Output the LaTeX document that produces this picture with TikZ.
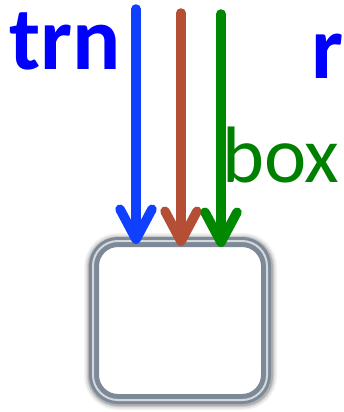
\documentclass[tikz,border=0pt]{standalone}
\usepackage{fontspec}
\setmainfont{Carlito}
\usetikzlibrary{arrows.meta}
\definecolor{trnblue}{RGB}{0,0,255}
\definecolor{arrblue}{RGB}{16,64,255}
\definecolor{arrred}{RGB}{180,78,52}
\definecolor{arrgreen}{RGB}{0,136,0}
\definecolor{boxgreen}{RGB}{0,128,0}
\definecolor{frame}{RGB}{125,137,150}
\definecolor{framelight}{RGB}{210,216,222}
\tikzset{
  flow/.style={line width=9.5pt, line cap=round,
    -{Straight Barb[length=30pt, width=32pt, line cap=round, line join=round]}},
  biglabel/.style={font=\fontsize{90}{90}\selectfont\bfseries, text=trnblue, inner sep=0pt, anchor=base west},
  sidelabel/.style={font=\fontsize{80}{80}\selectfont, text=boxgreen, inner sep=0pt, anchor=base west},
  roundbox/.style={rounded corners=24pt, minimum width=172pt, minimum height=157pt,
    outer sep=0pt, inner sep=0pt},
}
\begin{document}
\begin{tikzpicture}[x=1pt,y=-1pt]
  \useasboundingbox (0,0) rectangle (343,412);
  % framed box with soft shadow
  \foreach \w/\o in {20/0.05,17/0.07,14/0.10,12/0.13}
    \draw[rounded corners=24pt, line width=\w pt, black, opacity=\o]
      (94,243) rectangle (267,400);
  \node[roundbox, draw=frame, line width=10pt, fill=white] (box) at (180,320.5) {};
  \node[roundbox, draw=framelight, line width=2pt, minimum width=174pt, minimum height=159pt,
        rounded corners=25pt] (boxline) at (180,320.5) {};
  % labels
  \node[biglabel] (trn) at (9,70) {trn};
  \node[biglabel] (r) at (311,78) {r};
  \node[sidelabel] (boxlbl) at (222,182) {box};
  % incoming arrows
  \coordinate (b0) at (136,9);
  \coordinate (r0) at (181,13);
  \coordinate (g0) at (221,14);
  \draw[flow, arrblue, shorten >=-2pt] (b0) -- (b0 |- box.north);
  \draw[flow, arrred, shorten >=-4pt] (r0) -- (r0 |- box.north);
  \draw[flow, arrgreen, shorten >=-5pt] (g0) -- (g0 |- box.north);
\end{tikzpicture}
\end{document}
